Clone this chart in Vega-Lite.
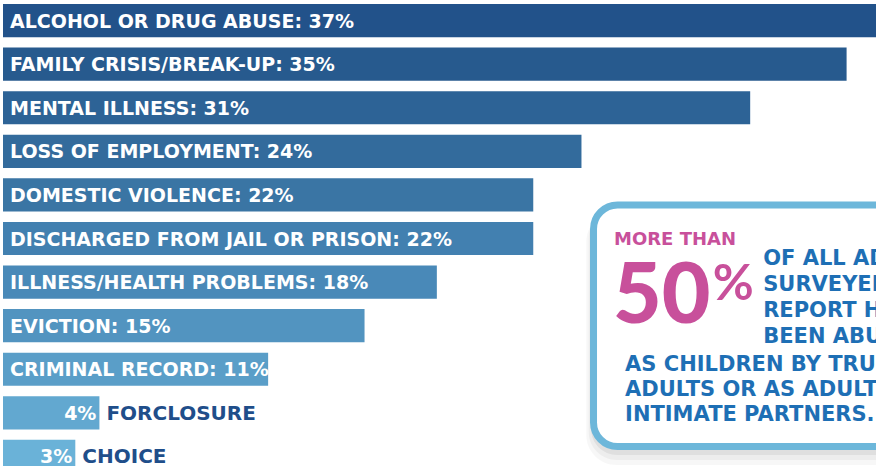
{
  "$schema": "https://vega.github.io/schema/vega-lite/v6.json",
  "width": 873,
  "height": 466,
  "autosize": {"type": "none"},
  "padding": {"left": 3, "top": 0, "right": 0, "bottom": 0},
  "background": "white",
  "config": {"view": {"stroke": null}},
  "datasets": {
    "bars": [
      {"cause": "ALCOHOL OR DRUG ABUSE", "pct": 37},
      {"cause": "FAMILY CRISIS/BREAK-UP", "pct": 35},
      {"cause": "MENTAL ILLNESS", "pct": 31},
      {"cause": "LOSS OF EMPLOYMENT", "pct": 24},
      {"cause": "DOMESTIC VIOLENCE", "pct": 22},
      {"cause": "DISCHARGED FROM JAIL OR PRISON", "pct": 22},
      {"cause": "ILLNESS/HEALTH PROBLEMS", "pct": 18},
      {"cause": "EVICTION", "pct": 15},
      {"cause": "CRIMINAL RECORD", "pct": 11},
      {"cause": "FORCLOSURE", "pct": 4},
      {"cause": "CHOICE", "pct": 3}
    ]
  },
  "layer": [
    {
      "data": {"name": "bars"},
      "layer": [
        {
          "mark": {"type": "bar", "clip": true},
          "encoding": {
            "y": {"field": "cause", "type": "nominal", "sort": null, "axis": null, "scale": {"range": [0, 477], "paddingInner": 0.24, "paddingOuter": 0.092}},
            "x": {"field": "pct", "type": "quantitative", "axis": null, "scale": {"domain": [0, 36.22], "nice": false}},
            "color": {
              "field": "cause",
              "type": "nominal",
              "legend": null,
              "scale": {
                "domain": ["ALCOHOL OR DRUG ABUSE", "FAMILY CRISIS/BREAK-UP", "MENTAL ILLNESS", "LOSS OF EMPLOYMENT", "DOMESTIC VIOLENCE", "DISCHARGED FROM JAIL OR PRISON", "ILLNESS/HEALTH PROBLEMS", "EVICTION", "CRIMINAL RECORD", "FORCLOSURE", "CHOICE"],
                "range": ["#22528a", "#275a8e", "#2d6396", "#336b9c", "#3a75a4", "#4280b0", "#4989b8", "#5294c0", "#5a9ec8", "#62a8d0", "#6ab2d8"]
              }
            }
          }
        },
        {
          "transform": [
            {"filter": "datum.pct >= 10"},
            {"calculate": "datum.cause + ': ' + datum.pct + '%'", "as": "lbl"}
          ],
          "mark": {"type": "text", "align": "left", "baseline": "middle", "dx": 7, "dy": 1, "font": "DejaVu Sans", "fontWeight": "bold", "fontSize": 19, "color": "white", "clip": true},
          "encoding": {
            "y": {"field": "cause", "type": "nominal", "sort": null, "axis": null},
            "x": {"datum": 0, "type": "quantitative"},
            "text": {"field": "lbl"}
          }
        },
        {
          "transform": [
            {"filter": "datum.pct < 10"},
            {"calculate": "datum.pct + '%'", "as": "num"}
          ],
          "mark": {"type": "text", "align": "right", "baseline": "middle", "dx": -3, "dy": 1, "font": "DejaVu Sans", "fontWeight": "bold", "fontSize": 19, "color": "white"},
          "encoding": {
            "y": {"field": "cause", "type": "nominal", "sort": null, "axis": null},
            "x": {"field": "pct", "type": "quantitative"},
            "text": {"field": "num"}
          }
        },
        {
          "transform": [{"filter": "datum.pct < 10"}],
          "mark": {"type": "text", "align": "left", "baseline": "middle", "dx": 7, "dy": 1, "font": "DejaVu Sans", "fontWeight": "bold", "fontSize": 20, "color": "#1f4e8a"},
          "encoding": {
            "y": {"field": "cause", "type": "nominal", "sort": null, "axis": null},
            "x": {"field": "pct", "type": "quantitative"},
            "text": {"field": "cause"}
          }
        }
      ]
    },
    {
      "data": {"values": [{"k": 1}]},
      "layer": [
        {
          "mark": {"type": "rect", "fill": "black", "opacity": 0.03, "cornerRadius": 30, "clip": true},
          "encoding": {
            "x": {"datum": 24.2, "type": "quantitative"}, "x2": {"datum": 40},
            "y": {"datum": 212, "type": "quantitative", "axis": null, "scale": {"domain": [0, 466], "reverse": true, "nice": false, "zero": false}}, "y2": {"datum": 465}
          }
        },
        {
          "mark": {"type": "rect", "fill": "black", "opacity": 0.04, "cornerRadius": 28, "clip": true},
          "encoding": {"x": {"datum": 24.3, "type": "quantitative"}, "x2": {"datum": 40}, "y": {"datum": 210, "type": "quantitative"}, "y2": {"datum": 460}}
        },
        {
          "mark": {"type": "rect", "fill": "black", "opacity": 0.06, "cornerRadius": 26, "clip": true},
          "encoding": {"x": {"datum": 24.4, "type": "quantitative"}, "x2": {"datum": 40}, "y": {"datum": 208, "type": "quantitative"}, "y2": {"datum": 455}}
        },
        {
          "mark": {"type": "rect", "fill": "white", "stroke": "#6db7da", "strokeWidth": 7, "cornerRadius": 24, "clip": true},
          "encoding": {"x": {"datum": 24.5, "type": "quantitative"}, "x2": {"datum": 40}, "y": {"datum": 205, "type": "quantitative"}, "y2": {"datum": 446.5}}
        },
        {
          "mark": {"type": "text", "align": "left", "baseline": "alphabetic", "font": "DejaVu Sans", "fontWeight": "bold", "fontSize": 18, "color": "#c8509b"},
          "encoding": {"x": {"datum": 25.35, "type": "quantitative"}, "y": {"datum": 245, "type": "quantitative"}, "text": {"value": "MORE THAN"}}
        },
        {
          "mark": {"type": "text", "align": "left", "baseline": "alphabetic", "font": "Lato", "fontWeight": 900, "fontSize": 84, "color": "#c8509b"},
          "encoding": {"x": {"datum": 25.31, "type": "quantitative"}, "y": {"datum": 323, "type": "quantitative"}, "text": {"value": "50"}}
        },
        {
          "mark": {"type": "text", "align": "left", "baseline": "alphabetic", "font": "Lato", "fontWeight": "bold", "fontSize": 50, "color": "#c8509b"},
          "encoding": {"x": {"datum": 29.45, "type": "quantitative"}, "y": {"datum": 300, "type": "quantitative"}, "text": {"value": "%"}}
        },
        {
          "mark": {"type": "text", "align": "left", "baseline": "alphabetic", "font": "DejaVu Sans", "fontWeight": "bold", "fontSize": 21, "lineHeight": 26, "color": "#1e6fb5", "clip": true},
          "encoding": {"x": {"datum": 31.54, "type": "quantitative"}, "y": {"datum": 265, "type": "quantitative"}, "text": {"value": ["OF ALL ADULTS", "SURVEYED", "REPORT HAVING", "BEEN ABUSED"]}}
        },
        {
          "mark": {"type": "text", "align": "left", "baseline": "alphabetic", "font": "DejaVu Sans", "fontWeight": "bold", "fontSize": 21, "lineHeight": 25, "color": "#1e6fb5", "clip": true},
          "encoding": {"x": {"datum": 25.81, "type": "quantitative"}, "y": {"datum": 371, "type": "quantitative"}, "text": {"value": ["AS CHILDREN BY TRUSTED", "ADULTS OR AS ADULTS BY", "INTIMATE PARTNERS."]}}
        }
      ]
    }
  ],
  "resolve": {"scale": {"y": "independent"}}
}
